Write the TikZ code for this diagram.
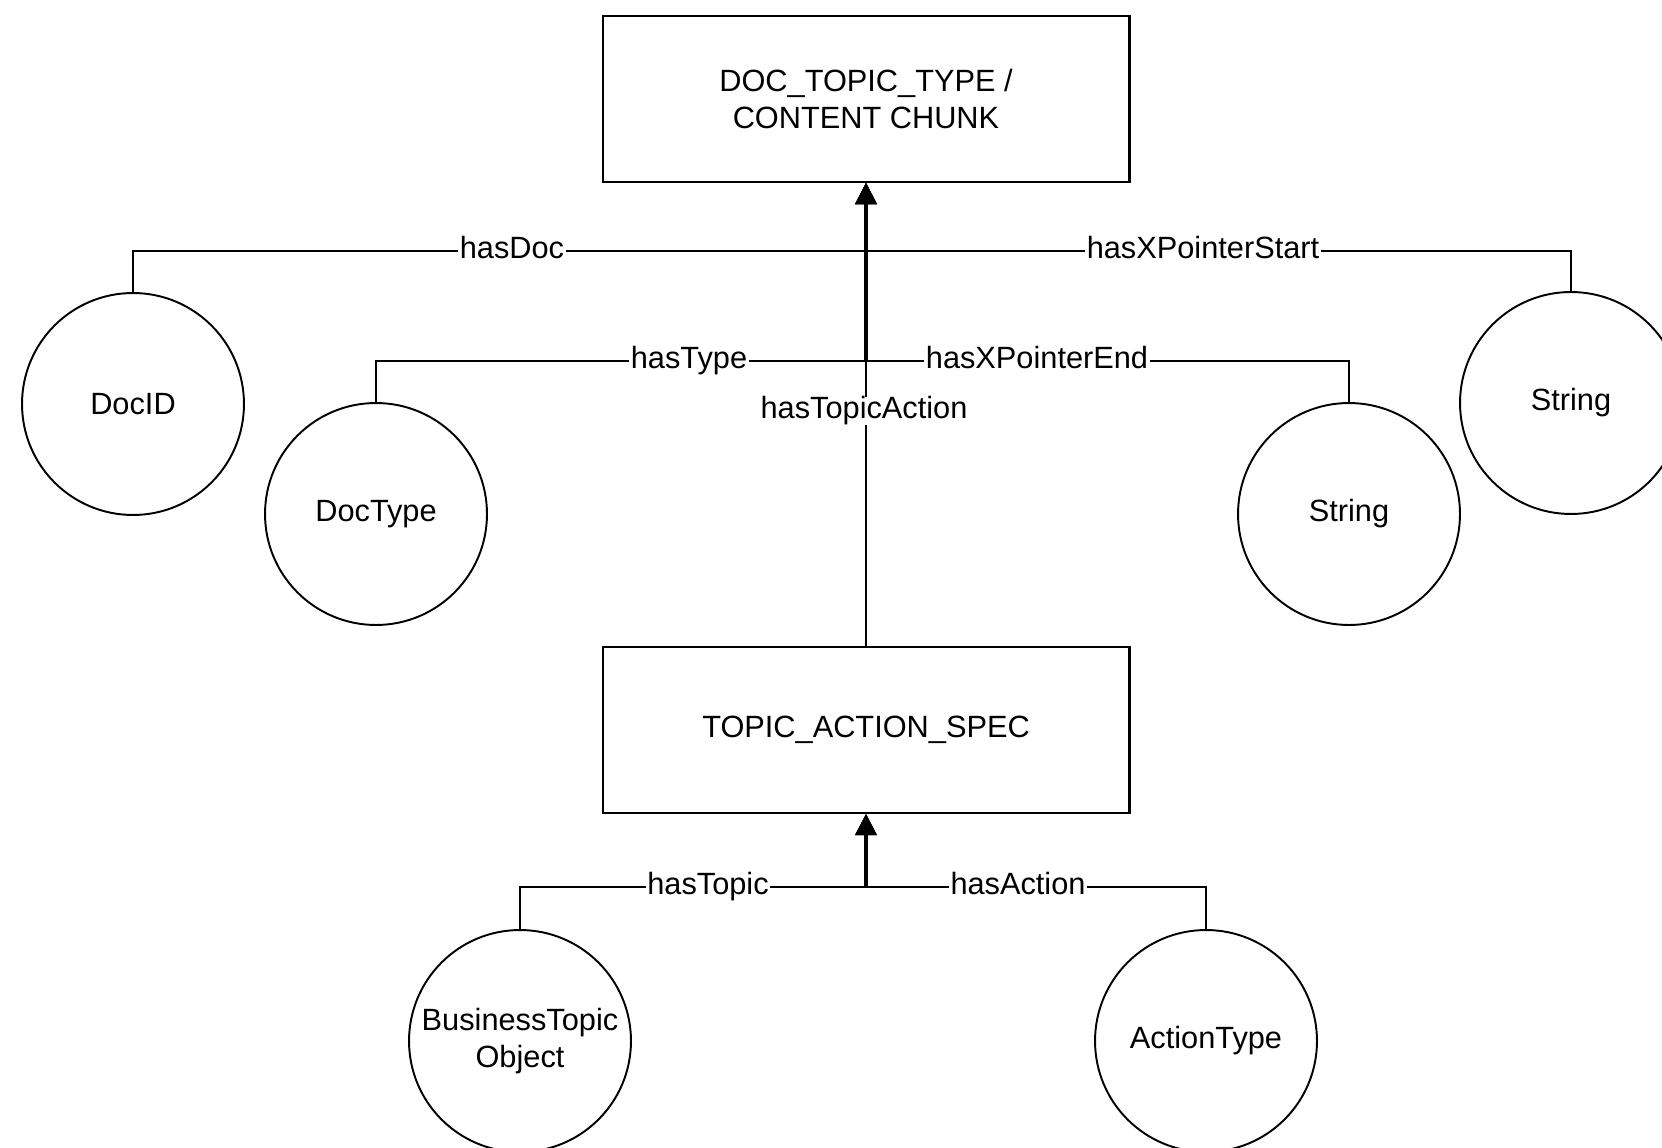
\documentclass[tikz,border=0pt]{standalone}
\usepackage{fontspec}
\setmainfont{Liberation Sans}
\usepackage{tikz}
\usetikzlibrary{arrows.meta,positioning}

\begin{document}
\begin{tikzpicture}[x=0.02cm, y=-0.02cm,
  every node/.style={font=\fontsize{17.5}{21}\selectfont},
  classbox/.style={draw, line width=1.2pt, minimum width=10.54cm, minimum height=3.32cm, align=center},
  valnode/.style={draw, circle, line width=1.1pt, minimum size=4.44cm, inner sep=0pt, align=center},
  lbl/.style={fill=white, inner sep=1pt, text height=11pt, text depth=3pt},
  link/.style={line width=1.1pt, -{Triangle[width=12pt,length=12pt]}},
  trunk/.style={line width=2.4pt, -{Triangle[width=12pt,length=12pt]}}]
\useasboundingbox (0,0) rectangle (1662,1148);
%
\node[classbox] (docTopic) at (866,99) {DOC\_TOPIC\_TYPE /\\CONTENT CHUNK};
\node[classbox] (topicSpec) at (866,730) {TOPIC\_ACTION\_SPEC};
%
\node[valnode] (docId) at (133,404) {DocID};
\node[valnode] (docType) at (376,514) {DocType};
\node[valnode] (strEnd) at (1349,514) {String};
\node[valnode] (strStart) at (1571,403) {String};
\node[valnode] (bizTopic) at (520,1041) {BusinessTopic\\Object};
\node[valnode] (actType) at (1206,1041) {ActionType};
%
\coordinate (jDoc) at (866,251);
\coordinate (jType) at (866,361);
\coordinate (jTopic) at (866,887);
%
\draw[link] (docId.north) |- (jDoc) -- (docTopic.south);
\draw[link] (strStart.north) |- (jDoc) -- (docTopic.south);
\draw[link] (docType.north) |- (jType) -- (docTopic.south);
\draw[link] (strEnd.north) |- (jType) -- (docTopic.south);
\draw[link] (topicSpec.north) -- (docTopic.south);
\draw[link] (bizTopic.north) |- (jTopic) -- (topicSpec.south);
\draw[link] (actType.north) |- (jTopic) -- (topicSpec.south);
% shared runs look heavier
\draw[trunk] (jType) -- (docTopic.south);
\draw[trunk] (jTopic) -- (topicSpec.south);
%
\node[lbl] (lDoc) at (512,251) {hasDoc};
\node[lbl] (lStart) at (1203,251) {hasXPointerStart};
\node[lbl] (lType) at (689,361) {hasType};
\node[lbl] (lEnd) at (1037,361) {hasXPointerEnd};
\node[lbl] (lAction) at (864,411) {hasTopicAction};
\node[lbl] (lTopic) at (708,887) {hasTopic};
\node[lbl] (lAct) at (1018,887) {hasAction};
%
\end{tikzpicture}
\end{document}
